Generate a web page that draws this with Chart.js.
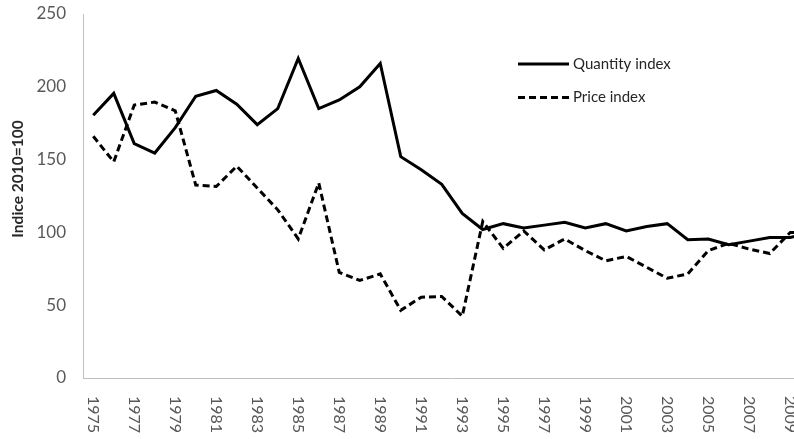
<!DOCTYPE html>
<html>
<head>
<meta charset="utf-8">
<script src="https://cdn.jsdelivr.net/npm/chart.js@4.4.0/dist/chart.umd.min.js"></script>
<style>
  html, body { margin: 0; padding: 0; background: #fff; overflow: hidden; }
</style>
</head>
<body>
<canvas id="index-chart" width="830" height="439"></canvas>
<script>
// categories, 2010 = 100 (base year)
const years = ['1975', '1976', '1977', '1978', '1979', '1980', '1981', '1982', '1983', '1984',
  '1985', '1986', '1987', '1988', '1989', '1990', '1991', '1992', '1993', '1994',
  '1995', '1996', '1997', '1998', '1999', '2000', '2001', '2002', '2003', '2004',
  '2005', '2006', '2007', '2008', '2009', '2010'];

const quantityIndex = [180.5, 195.5, 161, 154.5, 172, 193.5, 197.5, 188, 174, 185,
  219.5, 185, 191, 200, 216, 152, 143, 133, 113, 102,
  106, 103, 105, 107, 103, 106, 101, 104, 106, 95,
  95.5, 91.5, 94, 96.5, 96.5, 100];

const priceIndex = [166, 148.5, 187.5, 189.5, 183.5, 132.5, 131.5, 145.5, 130.5, 115.5,
  95.5, 134, 72.5, 67, 71.5, 46.5, 55.5, 56, 42.5, 107.5,
  89, 101, 88, 95.5, 87.5, 80.5, 83.5, 76, 68.5, 71.5,
  87.5, 92.5, 88.5, 85.5, 100, 100];

const yTicks = [0, 50, 100, 150, 200, 250];
const yTitle = 'Indice 2010=100';

// x labels read top-to-bottom, legend sits inside the plot, so draw those by hand
const overlay = {
  id: 'overlay',
  afterDraw(chart) {
    const { ctx } = chart;
    const x = chart.scales.x;
    ctx.save();

    ctx.font = '16px Lato';
    ctx.fillStyle = '#595959';
    ctx.textAlign = 'left';
    ctx.textBaseline = 'middle';
    years.forEach((yr, i) => {
      if (i % 2) return;
      ctx.save();
      ctx.translate(x.getPixelForValue(i), x.top + 18);
      ctx.rotate(Math.PI / 2);
      ctx.fillText(yr, 0, 0);
      ctx.restore();
    });

    ctx.save();
    ctx.translate(18, 179);
    ctx.rotate(-Math.PI / 2);
    ctx.font = 'bold 15.5px Lato';
    ctx.fillStyle = '#262626';
    ctx.textAlign = 'center';
    ctx.fillText(yTitle, 0, 0);
    ctx.restore();

    chart.data.datasets.forEach((ds, i) => {
      const ly = 64 + i * 33.5;
      ctx.beginPath();
      ctx.setLineDash(ds.borderDash || []);
      ctx.lineWidth = ds.borderWidth;
      ctx.strokeStyle = ds.borderColor;
      ctx.moveTo(518, ly);
      ctx.lineTo(569, ly);
      ctx.stroke();
      ctx.setLineDash([]);
      ctx.font = '15px Lato';
      ctx.fillStyle = '#262626';
      ctx.textAlign = 'left';
      ctx.fillText(ds.label, 573, ly);
    });

    ctx.restore();
  }
};

const ctx = document.getElementById('index-chart').getContext('2d');
new Chart(ctx, {
  type: 'line',
  data: {
    labels: years,
    datasets: [
      {
        label: 'Quantity index',
        data: quantityIndex,
        borderColor: '#000',
        borderWidth: 3,
        pointRadius: 0,
        tension: 0,
      },
      {
        label: 'Price index',
        data: priceIndex,
        borderColor: '#000',
        borderWidth: 3,
        borderDash: [7, 4],
        pointRadius: 0,
        tension: 0,
      },
    ],
  },
  options: {
    responsive: false,
    animation: false,
    devicePixelRatio: 1,
    layout: { padding: { top: 14, right: 9, left: 0, bottom: 0 } },
    plugins: {
      legend: { display: false },
      tooltip: { enabled: false },
    },
    scales: {
      x: {
        type: 'category',
        offset: true,
        grid: { display: false },
        border: { display: true, color: '#bfbfbf', width: 1 },
        ticks: { display: false },
        afterFit: (s) => { s.height = 61; },
      },
      y: {
        min: 0,
        max: 250,
        grid: { display: false, drawTicks: false },
        border: { display: true, color: '#bfbfbf', width: 1 },
        afterBuildTicks: (s) => { s.ticks = yTicks.map(v => ({ value: v })); },
        ticks: {
          padding: 17,
          color: '#595959',
          font: { family: 'Lato', size: 17 },
        },
        afterFit: (s) => {
          s.width = 83;
          s.paddingTop = 0;
          s.paddingBottom = 0;
        },
      },
    },
  },
  plugins: [overlay],
});
</script>
</body>
</html>
